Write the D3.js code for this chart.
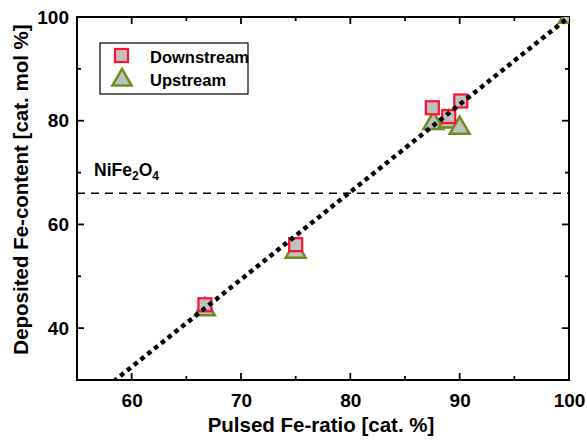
<!DOCTYPE html>
<meta charset="utf-8">
<style>
  body { margin: 0; background: #fff; }
  text { font-family: Arial, "Liberation Sans", sans-serif; font-weight: bold; fill: #000; }
</style>
<svg width="587" height="440"></svg>
<script src="https://d3js.org/d3.v7.min.js"></script>
<script>

var svg = d3.select("svg"),
    margin = {left: 77, top: 17, right: 18, bottom: 60},
    width = 587 - margin.left - margin.right,
    height = 440 - margin.top - margin.bottom;

// data
var downX = [66.7, 75, 87.5, 89, 90.1],
    downY = [44.5, 56.1, 82.5, 80.8, 83.8];
var upX = [66.7, 75, 87.6, 89, 90, 100],
    upY = [43.6, 54.7, 79.5, 79.8, 78.6, 100];
var fitX = [58.5, 100],
    fitY = [30, 100];
var spinelY = 66;

var xTicks = [60, 70, 80, 90, 100],
    yTicks = [40, 60, 80, 100];
var xMinor = [55, 65, 75, 85, 95],
    yMinor = [30, 50, 70, 90];

var x = d3.scaleLinear().domain([55, 100]).range([0, width]);
var y = d3.scaleLinear().domain([30, 100]).range([height, 0]);

var g = svg.append("g").attr("transform", "translate(" + margin.left + "," + margin.top + ")");

g.append("clipPath").attr("id", "clip")
  .append("rect").attr("width", width).attr("height", height);

// tick labels through d3 axes, tick marks drawn inward by hand
var xa = g.append("g").attr("transform", "translate(0," + height + ")")
  .call(d3.axisBottom(x).tickValues(xTicks).tickSize(0).tickPadding(14));
var ya = g.append("g")
  .call(d3.axisLeft(y).tickValues(yTicks).tickSize(0).tickPadding(8));
g.selectAll(".domain").remove();
g.selectAll(".tick text").style("font-size", "19px")
  .style("font-family", "Arial, 'Liberation Sans', sans-serif").style("font-weight", "bold");

var tk = g.append("g").attr("stroke", "#000").attr("stroke-width", 1.8);
function xt(vals, len) {
  vals.forEach(function(v) {
    tk.append("line").attr("x1", x(v)).attr("x2", x(v)).attr("y1", height).attr("y2", height - len);
    tk.append("line").attr("x1", x(v)).attr("x2", x(v)).attr("y1", 0).attr("y2", len);
  });
}
function yt(vals, len) {
  vals.forEach(function(v) {
    tk.append("line").attr("y1", y(v)).attr("y2", y(v)).attr("x1", 0).attr("x2", len);
    tk.append("line").attr("y1", y(v)).attr("y2", y(v)).attr("x1", width).attr("x2", width - len);
  });
}
xt(xTicks, 7); xt(xMinor, 4);
yt(yTicks, 7); yt(yMinor, 4);

g.append("rect").attr("width", width).attr("height", height)
  .attr("fill", "none").attr("stroke", "#000").attr("stroke-width", 2);

// NiFe2O4 reference line
g.append("line")
  .attr("x1", 0).attr("x2", width)
  .attr("y1", y(spinelY)).attr("y2", y(spinelY))
  .attr("stroke", "#000").attr("stroke-width", 1.5).attr("stroke-dasharray", "8,6");

var lab = g.append("text").attr("x", 17).attr("y", y(spinelY) - 17).style("font-size", "17.5px");
lab.append("tspan").text("NiFe");
lab.append("tspan").attr("dy", 4).style("font-size", "12px").text("2");
lab.append("tspan").attr("dy", -4).text("O");
lab.append("tspan").attr("dy", 4).style("font-size", "12px").text("4");

var plot = g.append("g").attr("clip-path", "url(#clip)");

var tri = d3.symbol().type(d3.symbolTriangle).size(170);

plot.selectAll(".up").data(d3.range(upX.length)).enter().append("path")
  .attr("d", tri)
  .attr("transform", function(i) { return "translate(" + x(upX[i]) + "," + y(upY[i]) + ")"; })
  .attr("fill", "#c0c0c0").attr("stroke", "#6b8e23").attr("stroke-width", 2.5);

plot.selectAll(".down").data(d3.range(downX.length)).enter().append("rect")
  .attr("x", function(i) { return x(downX[i]) - 6.5; })
  .attr("y", function(i) { return y(downY[i]) - 6.5; })
  .attr("width", 13).attr("height", 13)
  .attr("fill", "#c0c0c0").attr("stroke", "#ff1030").attr("stroke-width", 2.2);

// fit line
plot.append("path")
  .datum(d3.range(fitX.length))
  .attr("d", d3.line().x(function(i) { return x(fitX[i]); }).y(function(i) { return y(fitY[i]); }))
  .attr("stroke", "#000").attr("stroke-width", 4.5).attr("fill", "none")
  .attr("stroke-dasharray", "0.1,8.6").attr("stroke-linecap", "square");

// legend
var lg = g.append("g").attr("transform", "translate(23,26)");
lg.append("rect").attr("width", 148).attr("height", 51)
  .attr("fill", "#fff").attr("stroke", "#000").attr("stroke-width", 1.2);
lg.append("rect").attr("x", 15).attr("y", 6).attr("width", 13).attr("height", 13)
  .attr("fill", "#c0c0c0").attr("stroke", "#ff1030").attr("stroke-width", 2.2);
lg.append("path").attr("d", d3.symbol().type(d3.symbolTriangle).size(160)).attr("transform", "translate(22,37)")
  .attr("fill", "#c0c0c0").attr("stroke", "#6b8e23").attr("stroke-width", 2.5);
lg.append("text").attr("x", 50).attr("y", 20).style("font-size", "16.5px").text("Downstream");
lg.append("text").attr("x", 50).attr("y", 43).style("font-size", "16.5px").text("Upstream");

// axis titles
g.append("text").attr("x", width / 2 - 2).attr("y", height + 52)
  .attr("text-anchor", "middle").style("font-size", "20.5px").text("Pulsed Fe-ratio [cat. %]");
g.append("text").attr("transform", "translate(-49," + (height / 2 - 9) + ") rotate(-90)")
  .attr("text-anchor", "middle").style("font-size", "20.5px").text("Deposited Fe-content [cat. mol %]");

</script>
